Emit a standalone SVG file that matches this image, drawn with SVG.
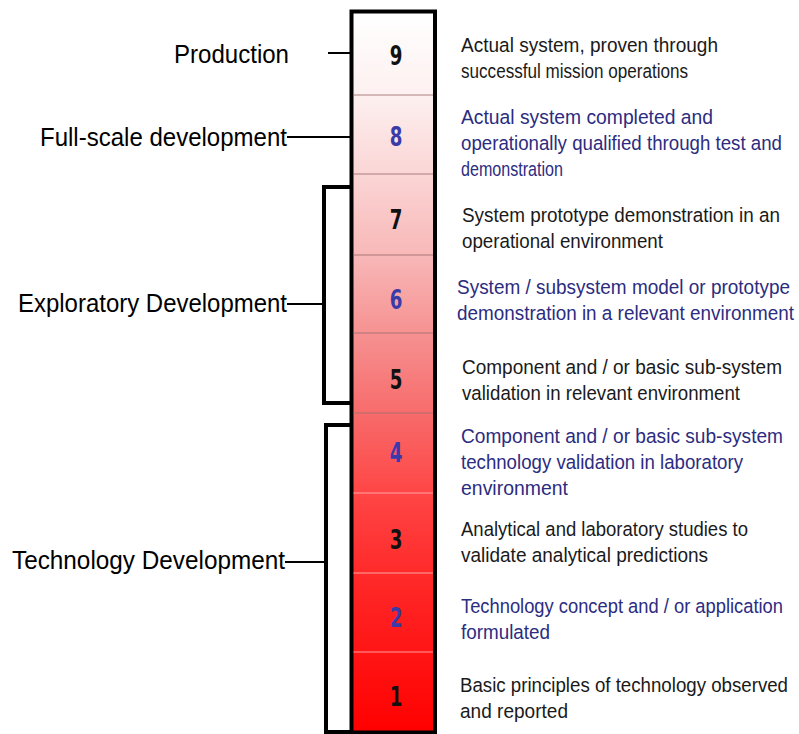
<svg xmlns="http://www.w3.org/2000/svg" width="799" height="734" viewBox="0 0 799 734">
<defs>
<linearGradient id="trl" x1="0" y1="12" x2="0" y2="732" gradientUnits="userSpaceOnUse">
<stop offset="0" stop-color="#ffffff"/>
<stop offset="0.115" stop-color="#fdf0f0"/>
<stop offset="0.226" stop-color="#fbd5d5"/>
<stop offset="0.337" stop-color="#f8b8b8"/>
<stop offset="0.45" stop-color="#f69090"/>
<stop offset="0.56" stop-color="#f86a6a"/>
<stop offset="0.67" stop-color="#ff4545"/>
<stop offset="0.78" stop-color="#ff2a2a"/>
<stop offset="0.89" stop-color="#ff1515"/>
<stop offset="1" stop-color="#ff0000"/>
</linearGradient>
<style>
.lbl{font-family:"Liberation Sans",Arial,sans-serif;font-size:25px;fill:#000}
.desc{font-family:"Liberation Sans",Arial,sans-serif;font-size:20.5px;fill:#1a1a1a}
.blue{fill:#2c2c80}
.num{font-family:"DejaVu Sans Condensed","DejaVu Sans",sans-serif;font-weight:bold;font-size:27px;text-anchor:middle;fill:#111}
.nb{fill:#3a3aa8}
.ln{stroke:#000;stroke-width:2;fill:none}
.br{stroke:#000;stroke-width:4;fill:none}
.dv{stroke:#a07070;stroke-opacity:0.6;stroke-width:1.5}
.dvl{stroke:#ffb0b0;stroke-opacity:0.6;stroke-width:1.5}
</style>
</defs>
<rect width="799" height="734" fill="#ffffff"/>
<g id="connectors">
<line class="ln" x1="328" y1="53" x2="350" y2="53"/>
<line class="ln" x1="287" y1="137" x2="350" y2="137"/>
<line class="ln" x1="287" y1="304" x2="324" y2="304"/>
<line class="ln" x1="285" y1="562" x2="326" y2="562"/>
<path class="br" d="M350,187 H324 V403 H350"/>
<path class="br" d="M350,425 H326 V732 H350"/>
</g>
<g id="bar">
<rect x="351.5" y="11.5" width="83.5" height="721" fill="url(#trl)" stroke="#000" stroke-width="4"/>
<line class="dv" x1="353.5" y1="95" x2="433" y2="95"/>
<line class="dv" x1="353.5" y1="174" x2="433" y2="174"/>
<line class="dv" x1="353.5" y1="255" x2="433" y2="255"/>
<line class="dv" x1="353.5" y1="333" x2="433" y2="333"/>
<line class="dv" x1="353.5" y1="413" x2="433" y2="413"/>
<line class="dvl" x1="353.5" y1="493" x2="433" y2="493"/>
<line class="dvl" x1="353.5" y1="573" x2="433" y2="573"/>
<line class="dvl" x1="353.5" y1="652" x2="433" y2="652"/>
</g>
<g id="level9"><text class="num" transform="translate(396,65) scale(0.75,1)">9</text>
<text class="desc" x="461" y="52" textLength="257" lengthAdjust="spacingAndGlyphs">Actual system, proven through</text>
<text class="desc" x="461" y="78" textLength="227" lengthAdjust="spacingAndGlyphs">successful mission operations</text></g>
<g id="level8"><text class="num nb" transform="translate(396,146) scale(0.75,1)">8</text>
<text class="desc blue" x="461" y="124" textLength="252" lengthAdjust="spacingAndGlyphs">Actual system completed and</text>
<text class="desc blue" x="461" y="150" textLength="321" lengthAdjust="spacingAndGlyphs">operationally qualified through test and</text>
<text class="desc blue" x="461" y="176" textLength="102" lengthAdjust="spacingAndGlyphs">demonstration</text></g>
<g id="level7"><text class="num" transform="translate(396,229) scale(0.75,1)">7</text>
<text class="desc" x="462" y="222" textLength="318" lengthAdjust="spacingAndGlyphs">System prototype demonstration in an</text>
<text class="desc" x="462" y="248" textLength="201" lengthAdjust="spacingAndGlyphs">operational environment</text></g>
<g id="level6"><text class="num nb" transform="translate(396,309) scale(0.75,1)">6</text>
<text class="desc blue" x="457" y="294" textLength="333" lengthAdjust="spacingAndGlyphs">System / subsystem model or prototype</text>
<text class="desc blue" x="457" y="320" textLength="337" lengthAdjust="spacingAndGlyphs">demonstration in a relevant environment</text></g>
<g id="level5"><text class="num" transform="translate(396,389) scale(0.75,1)">5</text>
<text class="desc" x="462" y="374" textLength="320" lengthAdjust="spacingAndGlyphs">Component and / or basic sub-system</text>
<text class="desc" x="462" y="400" textLength="278" lengthAdjust="spacingAndGlyphs">validation in relevant environment</text></g>
<g id="level4"><text class="num nb" transform="translate(396,462) scale(0.75,1)">4</text>
<text class="desc blue" x="461" y="443" textLength="322" lengthAdjust="spacingAndGlyphs">Component and / or basic sub-system</text>
<text class="desc blue" x="461" y="469" textLength="282" lengthAdjust="spacingAndGlyphs">technology validation in laboratory</text>
<text class="desc blue" x="461" y="495" textLength="107" lengthAdjust="spacingAndGlyphs">environment</text></g>
<g id="level3"><text class="num" transform="translate(396,549) scale(0.75,1)">3</text>
<text class="desc" x="461" y="536" textLength="287" lengthAdjust="spacingAndGlyphs">Analytical and laboratory studies to</text>
<text class="desc" x="461" y="562" textLength="247" lengthAdjust="spacingAndGlyphs">validate analytical predictions</text></g>
<g id="level2"><text class="num nb" transform="translate(396,627) scale(0.75,1)">2</text>
<text class="desc blue" x="461" y="613" textLength="322" lengthAdjust="spacingAndGlyphs">Technology concept and / or application</text>
<text class="desc blue" x="461" y="639" textLength="89" lengthAdjust="spacingAndGlyphs">formulated</text></g>
<g id="level1"><text class="num" transform="translate(396,706) scale(0.75,1)">1</text>
<text class="desc" x="460" y="692" textLength="328" lengthAdjust="spacingAndGlyphs">Basic principles of technology observed</text>
<text class="desc" x="460" y="718" textLength="108" lengthAdjust="spacingAndGlyphs">and reported</text></g>
<g id="production"><text class="lbl" x="174" y="63" textLength="115" lengthAdjust="spacingAndGlyphs">Production</text></g>
<g id="fullscale"><text class="lbl" x="40" y="146" textLength="247" lengthAdjust="spacingAndGlyphs">Full-scale development</text></g>
<g id="exploratory"><text class="lbl" x="18" y="312" textLength="269" lengthAdjust="spacingAndGlyphs">Exploratory Development</text></g>
<g id="technology"><text class="lbl" x="12" y="569" textLength="273" lengthAdjust="spacingAndGlyphs">Technology Development</text></g>
</svg>
